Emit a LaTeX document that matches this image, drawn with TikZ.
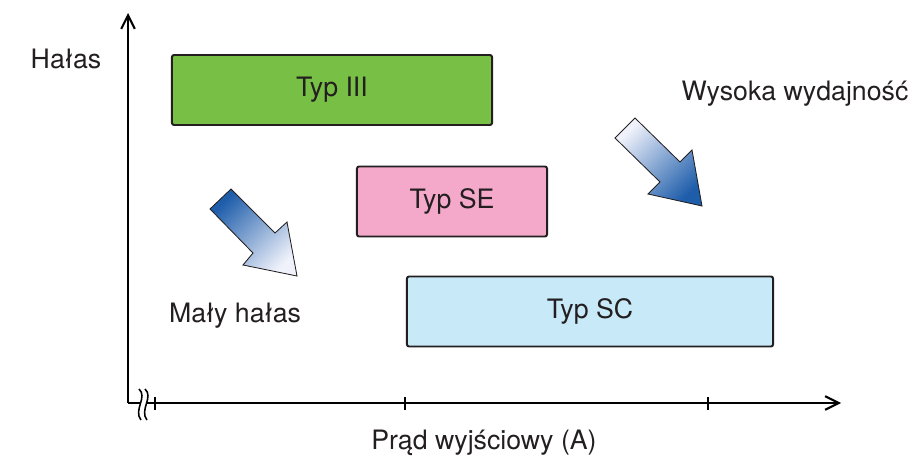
\documentclass[tikz,border=0pt]{standalone}
\usepackage{fontspec}
\setmainfont{TeX Gyre Heros}
\usetikzlibrary{arrows.meta}
\definecolor{inkdark}{HTML}{231F20}
\definecolor{typgreen}{HTML}{78C045}
\definecolor{typpink}{HTML}{F4A9CB}
\definecolor{typblue}{HTML}{C8EAF8}
\definecolor{arrowdark}{HTML}{1E5DAA}
\definecolor{arrowlight}{HTML}{F0F2FB}

\begin{document}
\begin{tikzpicture}[
    x=0.025cm, y=-0.025cm,
    axis/.style={draw=black, line width=1.5pt, -{Straight Barb[length=3.4mm,width=3.4mm]}},
    tick/.style={draw=black, line width=1.3pt},
    typbox/.style={draw=inkdark, line width=1.4pt, rounded corners=1.5pt,
      minimum height=1.75cm, inner sep=0pt, text=inkdark,
      font=\fontsize{19}{22}\selectfont},
    lbl/.style={font=\fontsize{19}{22}\selectfont, text=inkdark, anchor=base, inner sep=0pt},
    bigarrow/.style={draw=inkdark, line width=0.6pt, line join=miter},
  ]

  \useasboundingbox (0,0) rectangle (908,466);

  % ---------- axes
  \coordinate (o) at (128,403);
  \coordinate (ytop) at (128,13);
  \coordinate (xend) at (841,403);
  \draw[axis] (o) -- (ytop);
  \draw[axis] (o) -- (xend);
  \foreach \x in {155,405,708}
    \draw[tick] (\x,397) -- (\x,410);

  % axis break
  \fill[white] (139,389) .. controls (148,397) and (133,410) .. (141,420)
    -- (147,420) .. controls (139,410) and (154,397) .. (145,389) -- cycle;
  \draw[line width=1.1pt] (139,389) .. controls (148,397) and (133,410) .. (141,420);
  \draw[line width=1.1pt] (145,389) .. controls (154,397) and (139,410) .. (147,420);

  % ---------- type boxes
  \node[typbox, fill=typgreen, minimum width=8cm] (typIII) at (332,90) {Typ III};
  \node[typbox, fill=typpink, minimum width=4.75cm] (typSE) at (452,201.5) {Typ SE};
  \node[typbox, fill=typblue, minimum width=9.15cm] (typSC) at (590,311.5) {Typ SC};

  % ---------- shaded arrows
  \shade[bigarrow, top color=arrowdark, bottom color=arrowlight, shading angle=45]
    (210,209) -- (231,189) -- (275,233) -- (287,222) -- (297,276)
    -- (243,265) -- (253,253) -- cycle;
  \shade[bigarrow, top color=arrowlight, bottom color=arrowdark, shading angle=45]
    (615,138) -- (635,118) -- (680,162) -- (692,150) -- (702,206)
    -- (648,194) -- (660,182) -- cycle;

  % ---------- labels
  \node[lbl] (halas) at (66,69) {Hałas};
  \node[lbl] (wysoka) at (795,101) {Wysoka wydajność};
  \node[lbl] (malyhalas) at (235,322) {Mały hałas};
  \node[lbl] (prad) at (484,449) {Prąd wyjściowy (A)};

\end{tikzpicture}
\end{document}
